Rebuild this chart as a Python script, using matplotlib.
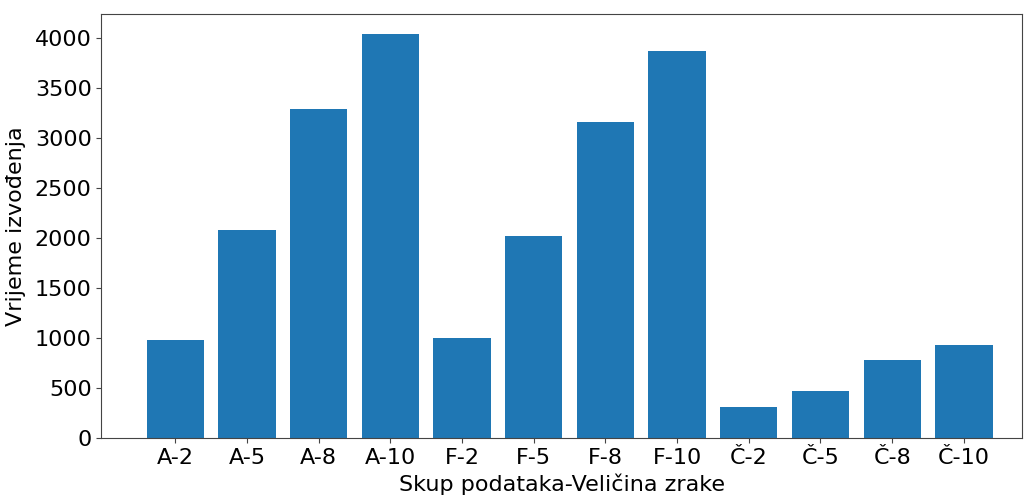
import matplotlib
matplotlib.use('Agg')
import matplotlib.pyplot as plt

labels = ['A-2', 'A-5', 'A-8', 'A-10', 'F-2', 'F-5', 'F-8', 'F-10',
          'Č-2', 'Č-5', 'Č-8', 'Č-10']
times = [980, 2080, 3290, 4035, 1003, 2020, 3155, 3870, 310, 470, 780, 926]

fig = plt.figure(figsize=(10.24, 4.95), dpi=100)
ax = fig.add_axes([0.099, 0.115, 0.899, 0.857])
ax.bar(range(len(labels)), times, width=0.8, color='#1f77b4')
ax.set_xticks(range(len(labels)))
ax.set_xticklabels(labels)
ax.set_xlim(-1.03, 11.81)
ax.tick_params(labelsize=16, color='#444444')
for s in ax.spines.values():
    s.set_color('#444444')
ax.set_xlabel('Skup podataka-Veličina zrake', fontsize=16)
ax.set_ylabel('Vrijeme izvođenja', fontsize=16, labelpad=6)

fig.savefig('out.png', dpi=100)
